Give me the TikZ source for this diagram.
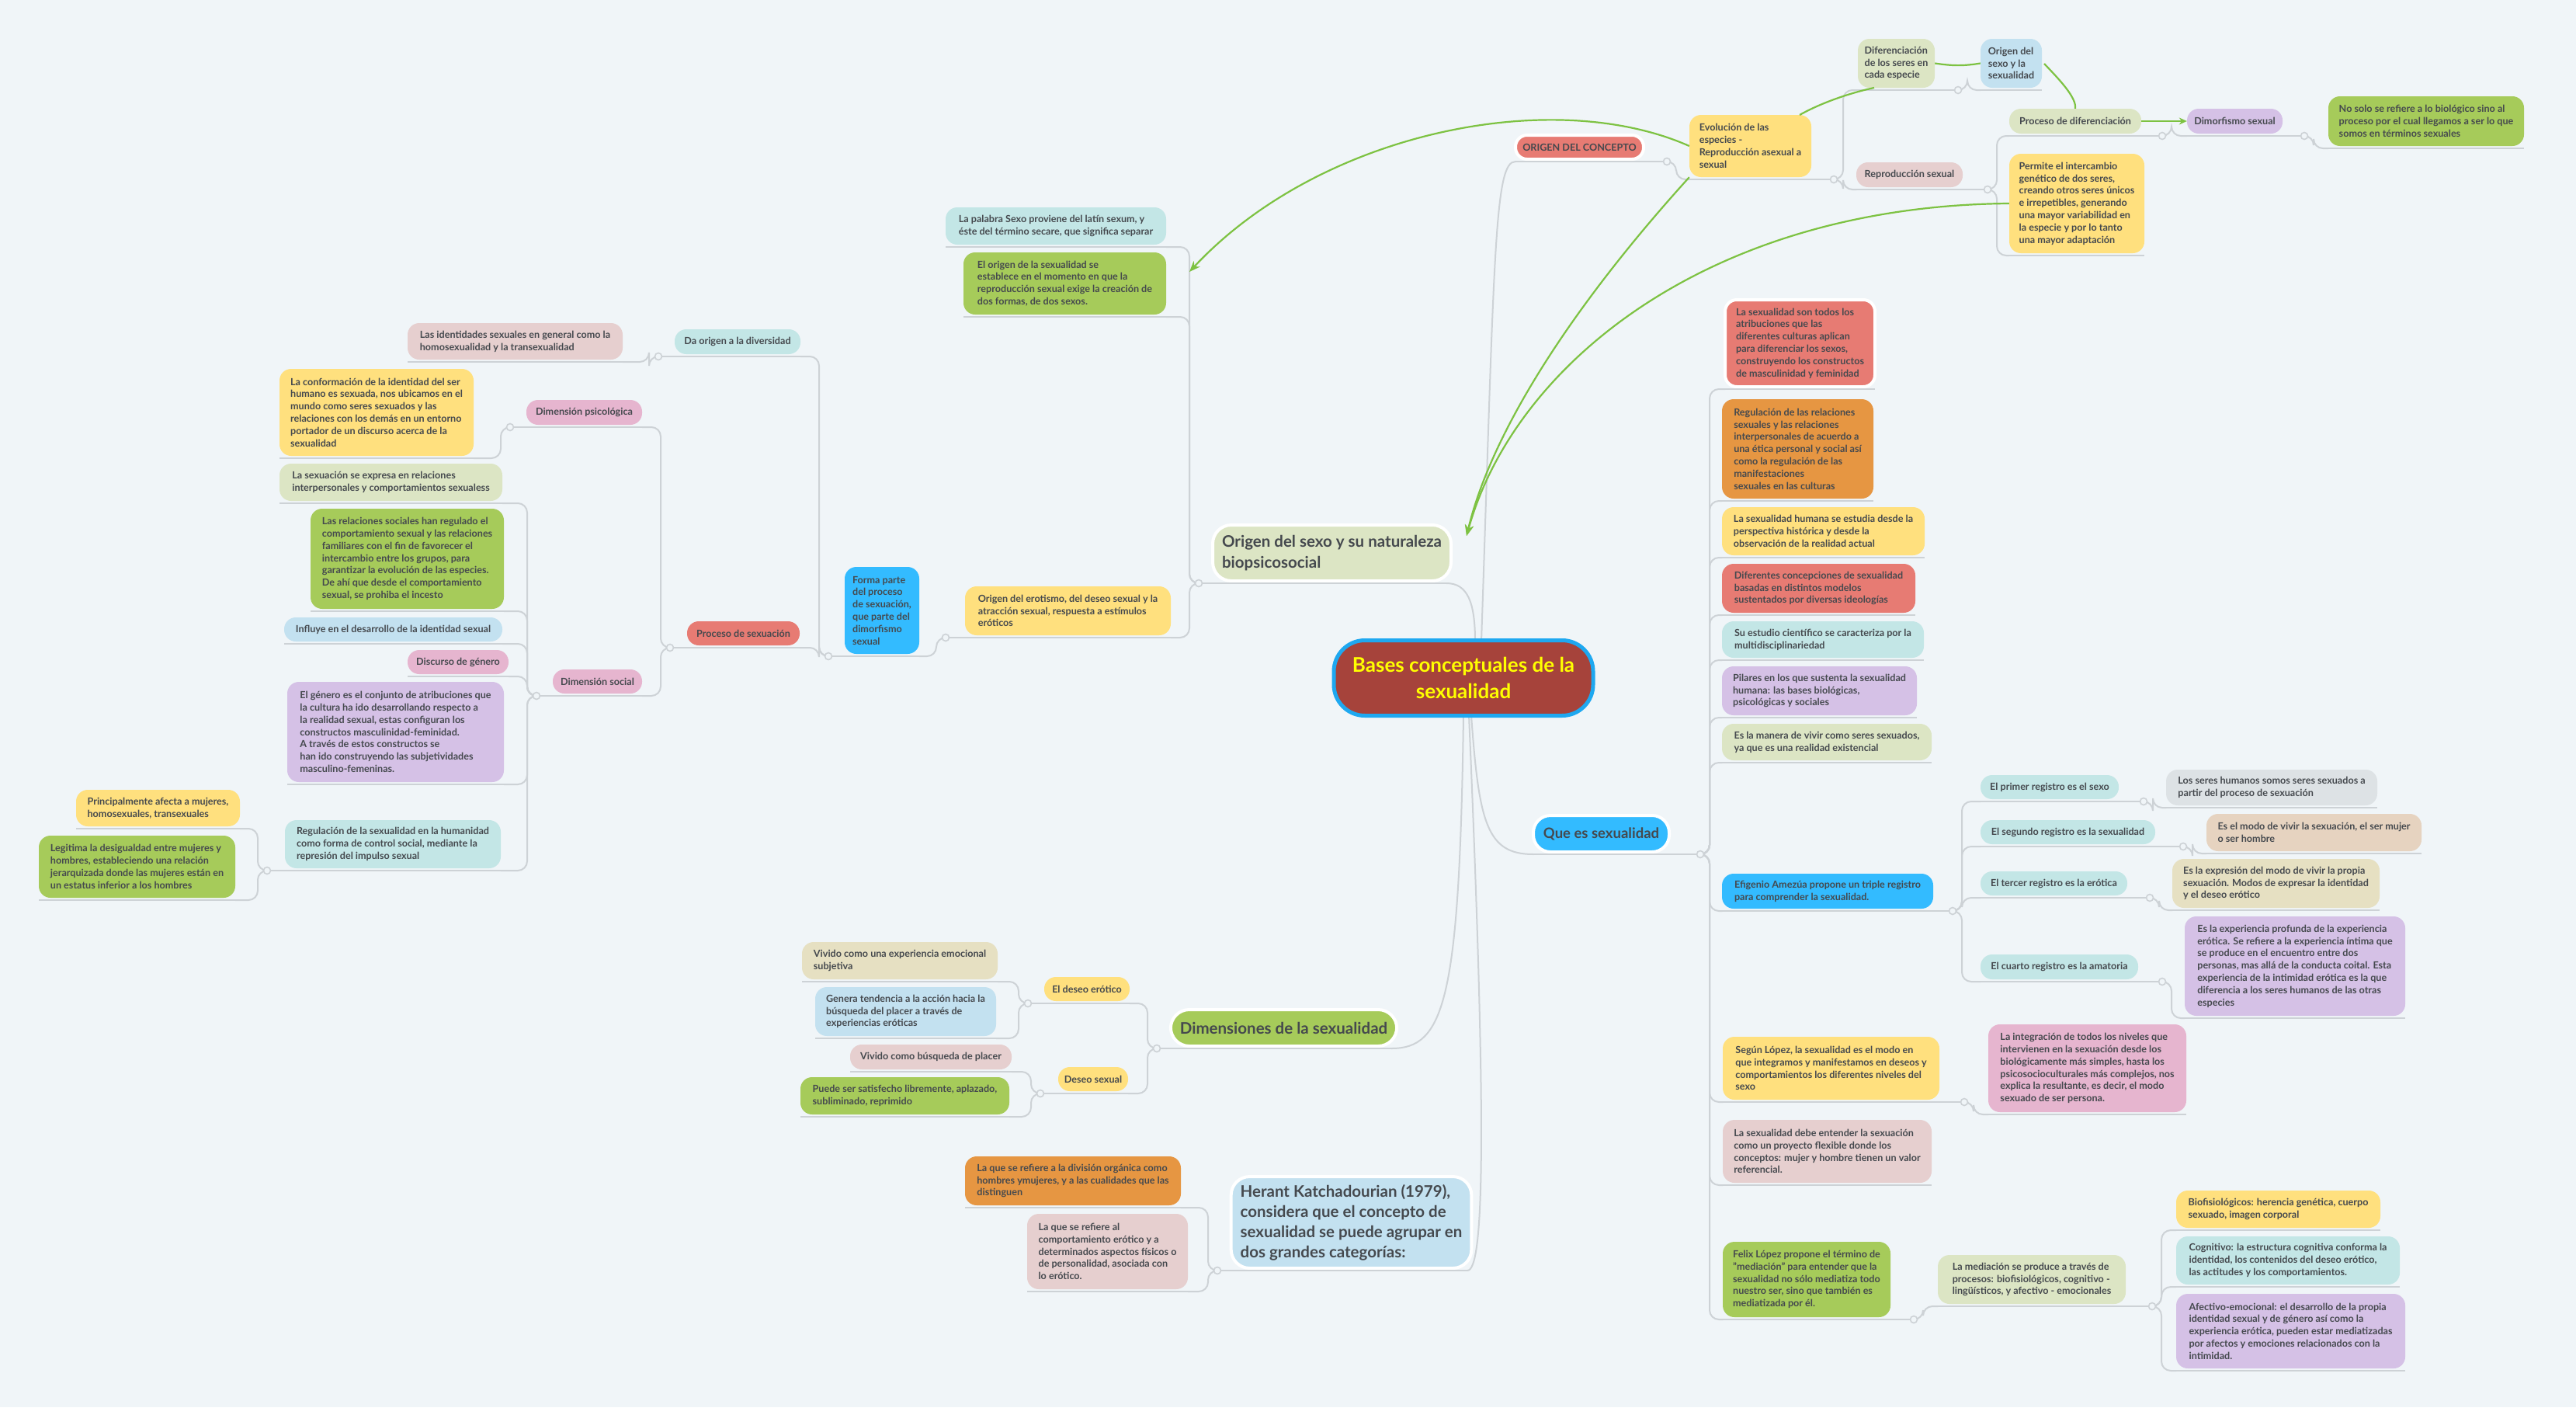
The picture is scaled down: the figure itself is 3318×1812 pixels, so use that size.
\documentclass[tikz,border=0pt]{standalone}
\usepackage{fontspec}
\setmainfont{Lato}
\usetikzlibrary{arrows.meta}
\definecolor{bgc}{HTML}{F0F5F8}
\definecolor{txt}{HTML}{45494E}
\definecolor{cred}{HTML}{E77B73}
\definecolor{corange}{HTML}{E69642}
\definecolor{cyellow}{HTML}{FFE07E}
\definecolor{clgreen}{HTML}{DCE5C4}
\definecolor{cgreen}{HTML}{A6CB5A}
\definecolor{cteal}{HTML}{C3E6E6}
\definecolor{clblue}{HTML}{C3E1F0}
\definecolor{cblue}{HTML}{33BBFF}
\definecolor{cpink}{HTML}{E6B5CF}
\definecolor{clilac}{HTML}{D5C1E6}
\definecolor{crose}{HTML}{E6CFCF}
\definecolor{cbeige}{HTML}{E6E0C2}
\definecolor{ctan}{HTML}{E6D3C0}
\definecolor{cgrey}{HTML}{DDE2E5}
\definecolor{ulc}{HTML}{CDD2D6}
\definecolor{garc}{HTML}{7DC242}
\definecolor{cenf}{HTML}{A6433B}
\definecolor{cenb}{HTML}{1EA8F0}
\definecolor{cyel}{HTML}{FFFF00}
\pgfdeclarelayer{bg}
\pgfdeclarelayer{back}
\pgfsetlayers{back,bg,main}
\newcommand\fs{\fontsize{12.6}{15.8}\selectfont\bfseries}
\tikzset{
 box/.style={rounded corners=15pt, inner xsep=7pt, inner ysep=3pt, align=left, text=txt, font=\fs},
 wb/.style={draw=white, line width=4pt},
 big/.style={font=\fontsize{20.5}{27}\selectfont\bfseries, rounded corners=24pt, inner xsep=12pt},
 ul/.style={draw=ulc, line width=2pt},
 dotc/.style={circle, draw=ulc, line width=1.6pt, fill=bgc, minimum size=9pt, inner sep=0pt},
 gar/.style={draw=garc, line width=2.2pt},
}
\newcommand\mm[7]{%
 \node[box,#2,minimum width={(#5-#3)*1pt},minimum height={(#6-#4)*1pt}] (#1) at ({(#3+#5)/2},{(#4+#6)/2}) {#7};
 \coordinate (#1-a) at (#3,#6+3); \coordinate (#1-b) at (#5,#6+3);
 \draw[ul] (#1-a) -- (#1-b);}
\newcommand\rdot[2]{\draw[ul] (#1-b) -- ++(#2,0) coordinate (#1-o); \node[dotc] at (#1-o) {};}
\newcommand\ldot[2]{\draw[ul] (#1-a) -- ++(-#2,0) coordinate (#1-o); \node[dotc] at (#1-o) {};}
\newcommand\rc[2]{\begin{pgfonlayer}{bg}\draw[ul,rounded corners=12pt] (#1-o) -- ++(12,0) |- (#2-a);\end{pgfonlayer}}
\newcommand\lc[2]{\begin{pgfonlayer}{bg}\draw[ul,rounded corners=12pt] (#1-o) -- ++(-12,0) |- (#2-b);\end{pgfonlayer}}
\begin{document}
\begin{tikzpicture}[x=1pt,y=-1pt]
\begin{pgfonlayer}{back}
\fill[bgc] (0,0) rectangle (3318,1812);
\end{pgfonlayer}
\useasboundingbox (0,0) rectangle (3318,1812);
% centre
\node[draw=cenb, line width=5pt, fill=cenf, rounded corners=40pt, text=cyel, align=center,
 font=\fontsize{26}{34}\selectfont\bfseries, minimum width=334pt, minimum height=97pt] (cen) at (1885,873) {Bases conceptuales de la\\sexualidad};
% ---- right top
\mm{orig}{fill=cred,wb}{1952}{174}{2117}{205}{ORIGEN DEL CONCEPTO}
\mm{evol}{fill=cyellow}{2176}{148}{2333}{228}{Evolución de las\\especies -\\Reproducción asexual a\\sexual}
\mm{dif}{fill=clgreen}{2393}{50}{2492}{113}{Diferenciación\\de los seres en\\cada especie}
\mm{oris}{fill=clblue}{2551}{50}{2630}{113}{Origen del\\sexo y la\\sexualidad}
\mm{repro}{fill=crose}{2391}{209}{2528}{241}{Reproducción sexual}
\mm{proc}{fill=clgreen}{2588}{140}{2758}{172}{Proceso de diferenciación}
\mm{dimo}{fill=clilac}{2817}{140}{2940}{172}{Dimorfismo sexual}
\mm{nosolo}{fill=cgreen}{2999}{124}{3251}{188}{No solo se refiere a lo biológico sino al\\proceso por el cual llegamos a ser lo que\\somos en términos sexuales}
\mm{permite}{fill=cyellow}{2588}{198}{2762}{326}{Permite el intercambio\\genético de dos seres,\\creando otros seres únicos\\e irrepetibles, generando\\una mayor variabilidad en\\la especie y por lo tanto\\una mayor adaptación}
\rdot{orig}{30}\rdot{evol}{29}\rdot{dif}{30}\rdot{repro}{32}\rdot{proc}{27}\rdot{dimo}{28}
\rc{orig}{evol}\rc{evol}{dif}\rc{evol}{repro}\rc{dif}{oris}\rc{repro}{proc}\rc{repro}{permite}\rc{proc}{dimo}\rc{dimo}{nosolo}
% ---- Origen del sexo
\mm{origsex}{fill=clgreen,wb,big}{1568}{676}{1863}{748}{Origen del sexo y su naturaleza\\biopsicosocial}
\mm{palabra}{fill=cteal}{1218}{267}{1502}{315}{La palabra Sexo proviene del latín sexum, y\\éste del término secare, que significa separar}
\mm{elorigen}{fill=cgreen}{1241}{325}{1502}{405}{El origen de la sexualidad se\\establece en el momento en que la\\reproducción sexual exige la creación de\\dos formas, de dos sexos.}
\mm{erot}{fill=cyellow}{1243}{755}{1508}{818}{Origen del erotismo, del deseo sexual y la\\atracción sexual, respuesta a estímulos\\eróticos}
\mm{forma}{fill=cblue}{1088}{730}{1184}{842}{Forma parte\\del proceso\\de sexuación,\\que parte del\\dimorfismo\\sexual}
\mm{dadiv}{fill=cteal}{869}{424}{1031}{456}{Da origen a la diversidad}
\mm{ident}{fill=crose}{525}{416}{802}{463}{Las identidades sexuales en general como la\\homosexualidad y la transexualidad}
\mm{procsex}{fill=cred}{885}{800}{1030}{831}{Proceso de sexuación}
\mm{dpsico}{fill=cpink}{678}{515}{827}{547}{Dimensión psicológica}
\mm{conform}{fill=cyellow}{360}{475}{610}{587}{La conformación de la identidad del ser\\humano es sexuada, nos ubicamos en el\\mundo como seres sexuados y las\\relaciones con los demás en un entorno\\portador de un discurso acerca de la\\sexualidad}
\mm{dsocial}{fill=cpink}{712}{862}{827}{893}{Dimensión social}
\mm{sexexp}{fill=clgreen}{360}{597}{647}{645}{La sexuación se expresa en relaciones\\interpersonales y comportamientos sexualess}
\mm{relsoc}{fill=cgreen}{400}{655}{649}{784}{Las relaciones sociales han regulado el\\comportamiento sexual y las relaciones\\familiares con el fin de favorecer el\\intercambio entre los grupos, para\\garantizar la evolución de las especies.\\De ahí que desde el comportamiento\\sexual, se prohiba el incesto}
\mm{influye}{fill=clblue}{366}{795}{647}{826}{Influye en el desarrollo de la identidad sexual}
\mm{discurso}{fill=cpink}{525}{837}{655}{868}{Discurso de género}
\mm{genero}{fill=clilac}{370}{878}{649}{1007}{El género es el conjunto de atribuciones que\\la cultura ha ido desarrollando respecto a\\la realidad sexual, estas configuran los\\constructos masculinidad-feminidad.\\A través de estos constructos  se\\han ido construyendo las subjetividades\\masculino-femeninas.}
\mm{regul}{fill=cteal}{367}{1056}{645}{1118}{Regulación de la sexualidad en la humanidad\\como forma de control social, mediante la\\represión del impulso sexual}
\mm{princ}{fill=cyellow}{98}{1017}{309}{1064}{Principalmente afecta a mujeres,\\homosexuales, transexuales}
\mm{legit}{fill=cgreen}{50}{1076}{303}{1156}{Legitima la desigualdad entre mujeres y\\hombres, estableciendo una relación\\jerarquizada donde las mujeres están en\\un estatus inferior a los hombres}
\ldot{origsex}{24}\ldot{erot}{25}\ldot{forma}{21}\ldot{dadiv}{21}\ldot{procsex}{22}\ldot{dpsico}{21}\ldot{dsocial}{21}\ldot{regul}{23}
\lc{origsex}{palabra}\lc{origsex}{elorigen}\lc{origsex}{erot}\lc{erot}{forma}\lc{forma}{dadiv}\lc{forma}{procsex}
\lc{dadiv}{ident}\lc{procsex}{dpsico}\lc{procsex}{dsocial}\lc{dpsico}{conform}
\lc{dsocial}{sexexp}\lc{dsocial}{relsoc}\lc{dsocial}{influye}\lc{dsocial}{discurso}\lc{dsocial}{genero}\lc{dsocial}{regul}
\lc{regul}{princ}\lc{regul}{legit}
% ---- Dimensiones
\mm{dims}{fill=cgreen,wb,big}{1515}{1300}{1792}{1347}{Dimensiones de la sexualidad}
\mm{deseoe}{fill=cyellow}{1345}{1258}{1455}{1289}{El deseo erótico}
\mm{deseos}{fill=cyellow}{1363}{1374}{1453}{1405}{Deseo sexual}
\mm{viv1}{fill=cbeige}{1033}{1213}{1285}{1261}{Vivido como una experiencia emocional\\subjetiva}
\mm{genera}{fill=clblue}{1050}{1271}{1283}{1334}{Genera tendencia a la acción hacia la\\búsqueda del placer a través de\\experiencias eróticas}
\mm{viv2}{fill=crose}{1095}{1345}{1303}{1377}{Vivido como búsqueda de placer}
\mm{puede}{fill=cgreen}{1031}{1387}{1300}{1435}{Puede ser satisfecho libremente, aplazado,\\subliminado, reprimido}
\mm{herant}{fill=clblue,wb,big,font=\fontsize{20.5}{26}\selectfont\bfseries}{1591}{1515}{1890}{1633}{Herant Katchadourian (1979),\\considera que el concepto de\\sexualidad se puede agrupar en\\dos grandes  categorías:}
\mm{laque1}{fill=corange}{1243}{1489}{1521}{1552}{La que se refiere a la división orgánica como\\hombres ymujeres, y a las cualidades que las\\distinguen}
\mm{laque2}{fill=crose}{1323}{1563}{1530}{1660}{La que se refiere al\\comportamiento erótico y a\\determinados aspectos físicos o\\de personalidad, asociada con\\lo erótico.}
\ldot{dims}{25}\ldot{deseoe}{21}\ldot{deseos}{23}\ldot{herant}{23}
\lc{dims}{deseoe}\lc{dims}{deseos}\lc{deseoe}{viv1}\lc{deseoe}{genera}\lc{deseos}{viv2}\lc{deseos}{puede}
\lc{herant}{laque1}\lc{herant}{laque2}
% ---- Que es sexualidad
\mm{queses}{fill=cblue,wb,font=\fontsize{18.5}{22}\selectfont\bfseries,rounded corners=22pt}{1975}{1050}{2150}{1097}{Que es sexualidad}
\mm{c1}{fill=cred,wb}{2222}{386}{2415}{498}{La sexualidad son todos los\\atribuciones que las\\diferentes culturas aplican\\para diferenciar los sexos,\\construyendo los constructos\\de masculinidad y feminidad}
\mm{c2}{fill=corange}{2218}{514}{2413}{642}{Regulación de las relaciones\\sexuales y las relaciones\\interpersonales de acuerdo a\\una ética  personal y social así\\como la regulación de las\\manifestaciones\\sexuales en las culturas}
\mm{c3}{fill=cyellow}{2218}{653}{2479}{715}{La sexualidad humana se estudia desde la\\perspectiva histórica y desde la\\observación de la realidad actual}
\mm{c4}{fill=cred}{2218}{726}{2467}{789}{Diferentes concepciones de sexualidad\\basadas en distintos modelos\\sustentados por diversas ideologías}
\mm{c5}{fill=cteal}{2218}{800}{2478}{847}{Su estudio científico se caracteriza por la\\multidisciplinariedad}
\mm{c6}{fill=clilac}{2218}{858}{2469}{921}{Pilares en los que sustenta la sexualidad\\humana: las bases biológicas,\\psicológicas y sociales}
\mm{c7}{fill=clgreen}{2218}{932}{2488}{979}{Es la manera de vivir como seres sexuados,\\ya que es una realidad existencial}
\mm{c8}{fill=cblue}{2218}{1125}{2490}{1170}{Efigenio Amezúa propone un triple registro\\para comprender  la sexualidad.}
\mm{r1}{fill=cteal}{2551}{998}{2729}{1029}{El primer registro es el sexo}
\mm{r1c}{fill=cgrey}{2790}{991}{3062}{1037}{Los seres humanos somos seres sexuados a\\partir del proceso de sexuación}
\mm{r2}{fill=cteal}{2551}{1056}{2776}{1087}{El segundo registro es la sexualidad}
\mm{r2c}{fill=ctan}{2842}{1048}{3119}{1096}{Es el modo de vivir la sexuación, el ser mujer\\o ser hombre}
\mm{r3}{fill=cteal}{2551}{1122}{2740}{1153}{El tercer registro es la erótica}
\mm{r3c}{fill=cbeige}{2798}{1106}{3065}{1169}{Es la expresión del modo de vivir la propia\\sexuación. Modos de expresar la identidad\\y el deseo erótico}
\mm{r4}{fill=cteal}{2551}{1229}{2754}{1261}{El cuarto registro es la amatoria}
\mm{r4c}{fill=clilac}{2814}{1180}{3098}{1308}{Es la experiencia profunda de la experiencia\\erótica. Se refiere a la experiencia íntima que\\se produce en el encuentro entre dos\\personas, mas allá de la conducta coital. Esta\\experiencia de la intimidad erótica es la que\\diferencia a los seres humanos de las otras\\especies}
\mm{c9}{fill=cyellow}{2219}{1335}{2498}{1416}{Según López, la sexualidad es el modo en\\que integramos y manifestamos en deseos y\\comportamientos  los diferentes niveles del\\sexo}
\mm{c9c}{fill=cpink}{2561}{1319}{2816}{1432}{La integración de todos los niveles que\\intervienen en la sexuación desde los\\biológicamente más simples, hasta los\\psicosocioculturales más complejos, nos\\explica la resultante, es decir, el modo\\sexuado de ser persona.}
\mm{c10}{fill=crose}{2219}{1442}{2488}{1523}{La sexualidad debe entender la sexuación\\como un proyecto flexible donde los\\conceptos: mujer y hombre tienen un valor\\referencial.}
\mm{c11}{fill=cgreen}{2219}{1599}{2435}{1696}{Felix López propone el término de\\"mediación" para entender que la\\sexualidad no sólo mediatiza todo\\nuestro ser, sino que también es\\mediatizada por él.}
\mm{c11c}{fill=clgreen}{2496}{1616}{2738}{1679}{La  mediación se produce a través de\\procesos:  biofisiológicos, cognitivo -\\lingüísticos, y afectivo - emocionales}
\mm{bio}{fill=cyellow}{2803}{1533}{3066}{1581}{Biofisiológicos: herencia genética, cuerpo\\sexuado, imagen corporal}
\mm{cog}{fill=cteal}{2803}{1592}{3091}{1654}{Cognitivo: la estructura cognitiva conforma la\\identidad, los contenidos del deseo erótico,\\las actitudes y los comportamientos.}
\mm{afe}{fill=clilac}{2803}{1666}{3098}{1762}{Afectivo-emocional: el desarrollo de la propia\\identidad sexual y de género así como la\\experiencia erótica, pueden estar mediatizadas\\por afectos y emociones relacionados con la\\intimidad.}
\rdot{queses}{40}\rdot{c8}{25}\rdot{r1}{32}\rdot{r2}{36}\rdot{r3}{29}\rdot{r4}{31}\rdot{c9}{32}\rdot{c11}{30}\rdot{c11c}{34}
\foreach \c in {c1,c2,c3,c4,c5,c6,c7,c8,c9,c10,c11}{\rc{queses}{\c}}
\foreach \c in {r1,r2,r3,r4}{\rc{c8}{\c}}
\rc{r1}{r1c}\rc{r2}{r2c}\rc{r3}{r3c}\rc{r4}{r4c}\rc{c9}{c9c}\rc{c11}{c11c}
\rc{c11c}{bio}\rc{c11c}{cog}\rc{c11c}{afe}
% ---- centre links
\begin{pgfonlayer}{bg}
\draw[ul] (1900,826) .. controls (1900,775) and (1890,751) .. (origsex-b);
\draw[ul] (1908,826) .. controls (1925,320) and (1925,208) .. (orig-a);
\draw[ul] (1895,921) .. controls (1905,1060) and (1915,1100) .. (queses-a);
\draw[ul] (1885,921) .. controls (1880,1290) and (1860,1350) .. (dims-b);
\draw[ul] (1892,921) .. controls (1915,1450) and (1912,1636) .. (herant-b);
\end{pgfonlayer}
% ---- green relations
\coordinate (tipA) at (1532,350);
\coordinate (tipB) at (1889,690);
\draw[gar,-{Stealth[length=14pt,width=11pt]}] (evol.west) .. controls (2000,110) and (1700,170) .. (tipA);
\draw[gar,-{Stealth[length=14pt,width=11pt]}] (evol.south west) .. controls (2020,400) and (1920,560) .. (tipB);
\draw[gar,-{Stealth[length=14pt,width=11pt]}] (permite.west) .. controls (2200,265) and (1950,470) .. (tipB);
\draw[gar] (2318,148) .. controls (2350,130) and (2390,118) .. (2414,113);
\draw[gar] (dif.east) .. controls (2515,85) and (2530,85) .. (oris.west);
\draw[gar] (2633,82) .. controls (2650,100) and (2675,125) .. (proc.north);
\draw[gar,-{Stealth[length=10pt,width=9pt]}] (proc.east) -- (dimo.west);
\end{tikzpicture}
\end{document}
